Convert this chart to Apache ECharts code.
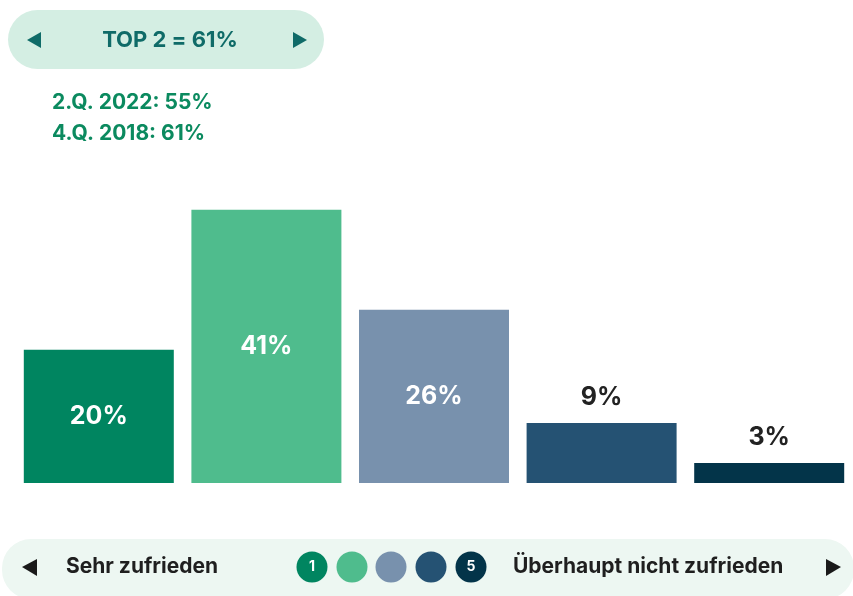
<!DOCTYPE html>
<html>
<head>
<meta charset="utf-8">
<script src="https://cdn.jsdelivr.net/npm/echarts@6/dist/echarts.min.js"></script>
<style>
html,body{margin:0;padding:0;background:#fff;}
#chart{width:853px;height:596px;}
</style>
</head>
<body>
<div id="chart"></div>
<script>
var categories = ['1', '2', '3', '4', '5'];
var values = [20, 41, 26, 9, 3];
var headline = 'TOP 2 = 61%';
var comparisons = ['2.Q. 2022: 55%', '4.Q. 2018: 61%'];
var legendLeft = 'Sehr zufrieden';
var legendRight = 'Überhaupt nicht zufrieden';

var palette = ['#008560', '#4fbc8d', '#7891ad', '#255273', '#033449'];
var FONT = 'Inter';

var chart = echarts.init(document.getElementById('chart'), null, {renderer: 'canvas'});

var seriesData = values.map(function (v, i) {
  var inside = v >= 15;
  return {
    value: v,
    itemStyle: {color: palette[i]},
    label: {
      show: true,
      position: inside ? 'inside' : 'top',
      distance: 13,
      color: inside ? '#ffffff' : '#222222',
      fontFamily: FONT,
      fontWeight: 'bold',
      fontSize: 25,
      formatter: '{c}%'
    }
  };
});

var graphics = [
  {type: 'rect', shape: {x: 8, y: 10, width: 316, height: 59, r: 29.5}, style: {fill: '#d4eee3'}},
  {type: 'polygon', shape: {points: [[27, 40], [41, 32], [41, 48]]}, style: {fill: '#0f6b68'}},
  {type: 'polygon', shape: {points: [[307, 40], [293, 32], [293, 48]]}, style: {fill: '#0f6b68'}},
  {type: 'text', x: 170, y: 40, style: {text: headline, fill: '#0f6b68', font: 'bold 22px ' + FONT, textAlign: 'center', textVerticalAlign: 'middle'}},
  {type: 'text', x: 52, y: 103, style: {text: comparisons[0], fill: '#0b8a5f', font: 'bold 21px ' + FONT, textAlign: 'left', textVerticalAlign: 'middle'}},
  {type: 'text', x: 52, y: 134, style: {text: comparisons[1], fill: '#0b8a5f', font: 'bold 21px ' + FONT, textAlign: 'left', textVerticalAlign: 'middle'}},
  {type: 'rect', shape: {x: 2, y: 539, width: 852, height: 60, r: 29}, style: {fill: '#edf7f2'}},
  {type: 'polygon', shape: {points: [[22, 567], [37, 559], [37, 576]]}, style: {fill: '#1a1a1a'}},
  {type: 'polygon', shape: {points: [[841, 567], [826, 559], [826, 576]]}, style: {fill: '#1a1a1a'}},
  {type: 'text', x: 66, y: 567, style: {text: legendLeft, fill: '#1f1f1f', font: 'bold 21px ' + FONT, textAlign: 'left', textVerticalAlign: 'middle'}},
  {type: 'text', x: 513, y: 567, style: {text: legendRight, fill: '#1f1f1f', font: 'bold 21px ' + FONT, textAlign: 'left', textVerticalAlign: 'middle'}}
];
var cx = [312, 352, 391, 431, 471];
categories.forEach(function (c, i) {
  graphics.push({type: 'circle', shape: {cx: cx[i], cy: 567, r: 15.5}, style: {fill: palette[i]}});
  if (i === 0 || i === categories.length - 1) {
    graphics.push({type: 'text', x: cx[i], y: 567, style: {text: c, fill: '#ffffff', font: 'bold 14px ' + FONT, textAlign: 'center', textVerticalAlign: 'middle'}});
  }
});

chart.setOption({
  animation: false,
  backgroundColor: '#ffffff',
  grid: {left: 15, right: 0, top: 183, bottom: 113, containLabel: false},
  xAxis: {
    type: 'category',
    data: categories,
    show: false
  },
  yAxis: {
    type: 'value',
    min: 0,
    max: 45,
    show: false
  },
  series: [{
    type: 'bar',
    data: seriesData,
    barWidth: 150
  }],
  graphic: graphics
});
</script>
</body>
</html>
